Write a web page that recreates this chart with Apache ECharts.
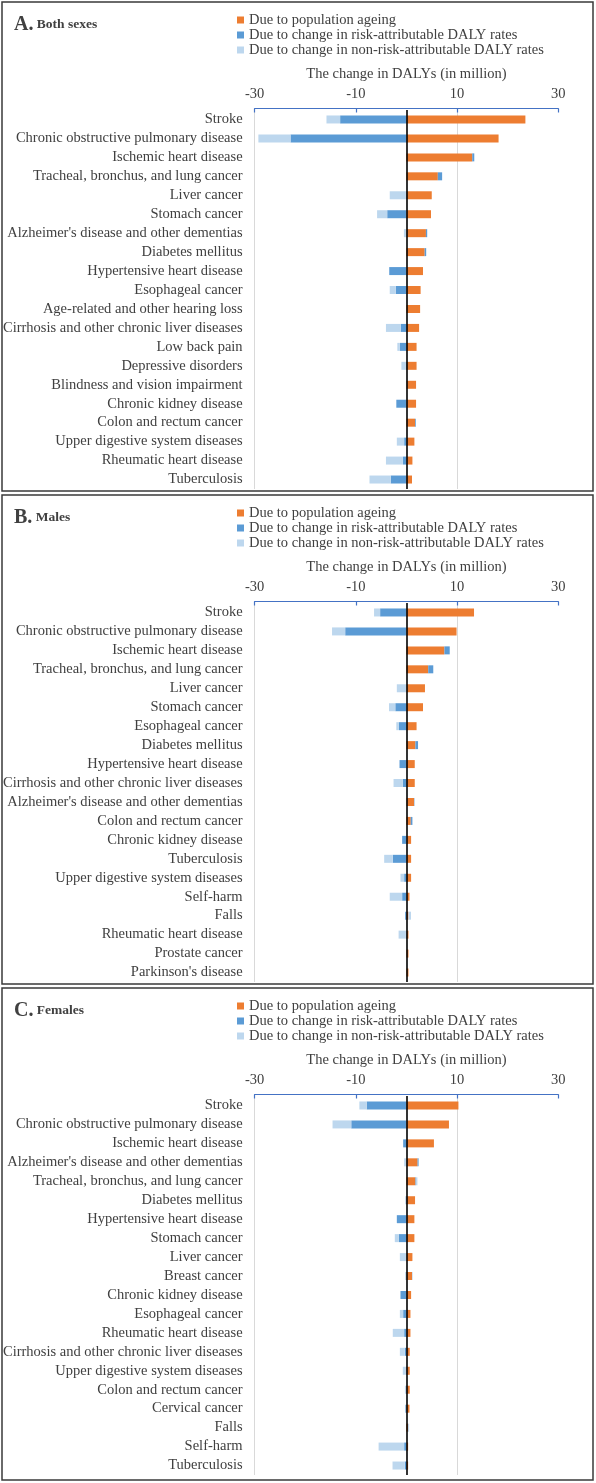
<!DOCTYPE html>
<html>
<head>
<meta charset="utf-8">
<script src="https://cdn.jsdelivr.net/npm/echarts@6/dist/echarts.min.js"></script>
<style>
html,body{margin:0;padding:0;background:#fff;}
#chart{width:596px;height:1483px;}
</style>
</head>
<body>
<div id="chart"></div>
<script>
// ---------- data ----------
const seriesNames = ['Due to population ageing', 'Due to change in risk-attributable DALY rates', 'Due to change in non-risk-attributable DALY rates'];
const tickLabels = [-30, -10, 10, 30];

const categoriesBoth = ['Stroke', 'Chronic obstructive pulmonary disease', 'Ischemic heart disease', 'Tracheal, bronchus, and lung cancer', 'Liver cancer', 'Stomach cancer', "Alzheimer's disease and other dementias", 'Diabetes mellitus', 'Hypertensive heart disease', 'Esophageal cancer', 'Age-related and other hearing loss', 'Cirrhosis and other chronic liver diseases', 'Low back pain', 'Depressive disorders', 'Blindness and vision impairment', 'Chronic kidney disease', 'Colon and rectum cancer', 'Upper digestive system diseases', 'Rheumatic heart disease', 'Tuberculosis'];
const ageingBoth = [23.5, 18.2, 13.0, 6.2, 5.0, 4.85, 3.85, 3.6, 3.27, 2.8, 2.7, 2.5, 2.0, 2.0, 1.9, 1.9, 1.7, 1.57, 1.18, 1.1];
const riskBoth = [-13.1, -22.9, 0.4, 0.85, -0.1, -3.8, 0.25, 0.3, -3.4, -2.1, 0, -1.1, -1.3, -0.1, 0, -2.0, 0.15, -0.45, -0.7, -3.1];
const nonRiskBoth = [-2.7, -6.35, 0, 0, -3.2, -2.0, -0.5, 0, 0, -1.2, 0, -2.95, -0.5, -0.9, -0.1, 0, 0, -1.45, -3.35, -4.2];

const categoriesMales = ['Stroke', 'Chronic obstructive pulmonary disease', 'Ischemic heart disease', 'Tracheal, bronchus, and lung cancer', 'Liver cancer', 'Stomach cancer', 'Esophageal cancer', 'Diabetes mellitus', 'Hypertensive heart disease', 'Cirrhosis and other chronic liver diseases', "Alzheimer's disease and other dementias", 'Colon and rectum cancer', 'Chronic kidney disease', 'Tuberculosis', 'Upper digestive system diseases', 'Self-harm', 'Falls', 'Rheumatic heart disease', 'Prostate cancer', "Parkinson's disease"];
const ageingMales = [13.35, 9.9, 7.5, 4.3, 3.66, 3.27, 2.0, 1.77, 1.64, 1.64, 1.5, 0.85, 0.92, 0.92, 0.92, 0.6, 0.4, 0.4, 0.4, 0.4];
const riskMales = [-5.2, -12.1, 1.05, 1.0, 0, -2.2, -1.5, 0.52, -1.37, -0.72, 0.07, 0.33, -0.85, -2.7, -0.45, -0.85, -0.25, -0.1, 0, 0];
const nonRiskMales = [-1.2, -2.6, 0, 0, -1.9, -1.25, -0.5, 0, 0, -1.83, -0.1, 0, 0, -1.7, -0.73, -2.45, 0.5, -1.45, 0, 0];

const categoriesFemales = ['Stroke', 'Chronic obstructive pulmonary disease', 'Ischemic heart disease', "Alzheimer's disease and other dementias", 'Tracheal, bronchus, and lung cancer', 'Diabetes mellitus', 'Hypertensive heart disease', 'Stomach cancer', 'Liver cancer', 'Breast cancer', 'Chronic kidney disease', 'Esophageal cancer', 'Rheumatic heart disease', 'Cirrhosis and other chronic liver diseases', 'Upper digestive system diseases', 'Colon and rectum cancer', 'Cervical cancer', 'Falls', 'Self-harm', 'Tuberculosis'];
const ageingFemales = [10.27, 8.4, 5.43, 2.2, 1.77, 1.7, 1.57, 1.57, 1.18, 1.1, 0.92, 0.79, 0.79, 0.65, 0.65, 0.65, 0.6, 0.33, 0.33, 0.33];
const riskFemales = [-7.85, -10.9, -0.65, 0.2, 0.1, -0.1, -1.9, -1.5, 0, 0.05, -1.18, -0.65, -0.45, -0.33, -0.1, -0.1, -0.2, 0, -0.45, -0.33];
const nonRiskFemales = [-1.45, -3.7, 0, -0.45, 0.3, -0.15, 0, -0.8, -1.3, -0.25, 0, -0.65, -2.25, -0.97, -0.62, -0.2, 0, 0.2, -5.05, -2.42];

// ---------- build ----------
const panels = [
  {letter: 'A.', title: 'Both sexes', cats: categoriesBoth, vals: [ageingBoth, riskBoth, nonRiskBoth]},
  {letter: 'B.', title: 'Males', cats: categoriesMales, vals: [ageingMales, riskMales, nonRiskMales]},
  {letter: 'C.', title: 'Females', cats: categoriesFemales, vals: [ageingFemales, riskFemales, nonRiskFemales]}
];
const colors = ['#ED7D31', '#5B9BD5', '#BDD7EE'];
const FONT = '"Liberation Serif", "Times New Roman", serif';
const TXT = '#404040';
const PH = 493;

const grid = [], xAxis = [], yAxis = [], series = [], legend = [], title = [], graphic = [];
const boxTops = [2, 495, 988], boxBottoms = [491, 984, 1480];

panels.forEach((p, i) => {
  const off = i * PH;
  grid.push({left: 252.7, right: 37.7, top: 110 + off, height: 379, containLabel: false});
  xAxis.push({
    type: 'value', gridIndex: i, position: 'top', min: -30, max: 30, interval: 10,
    offset: 1.5,
    name: 'The change in DALYs (in million)', nameLocation: 'middle', nameGap: 27,
    nameTextStyle: {fontFamily: FONT, fontSize: 14.5, color: TXT},
    axisLine: {show: true, lineStyle: {color: '#4472C4', width: 1.2}},
    axisTick: {show: true, inside: true, length: 4, customValues: tickLabels, lineStyle: {color: '#4472C4', width: 1.2}},
    axisLabel: {customValues: tickLabels, fontFamily: FONT, fontSize: 14.5, color: TXT, margin: 7,
      formatter: v => (tickLabels.indexOf(v) >= 0 ? String(v) : '')},
    splitLine: {show: true, lineStyle: {color: ['#d9d9d9', 'rgba(0,0,0,0)'], width: 1}}
  });
  yAxis.push({
    type: 'category', gridIndex: i, data: p.cats, inverse: true,
    axisLine: {show: false}, axisTick: {show: false},
    axisLabel: {interval: 0, fontFamily: FONT, fontSize: 14.5, color: TXT, margin: 12}
  });
  p.vals.forEach((vals, k) => {
    const s = {
      name: seriesNames[k], type: 'bar', xAxisIndex: i, yAxisIndex: i,
      stack: 'p' + i, data: vals, barWidth: 8,
      itemStyle: {color: colors[k]}, emphasis: {disabled: true}
    };
    if (k === 2) {
      s.markLine = {
        silent: true, symbol: ['none', 'none'], animation: false,
        label: {show: false},
        lineStyle: {color: '#000', width: 1.6, type: 'solid'},
        data: [{xAxis: 0}]
      };
    }
    series.push(s);
  });
  legend.push({
    data: seriesNames, orient: 'vertical', left: 232, top: 7.5 + off,
    icon: 'rect', itemWidth: 7, itemHeight: 7, itemGap: 0,
    selectedMode: false,
    textStyle: {fontFamily: FONT, fontSize: 14.5, color: TXT, lineHeight: 15}
  });
  title.push({
    text: '{a|' + p.letter + '}{b| ' + p.title + '}',
    left: 9, top: 10 + off,
    textStyle: {rich: {
      a: {fontFamily: FONT, fontSize: 20, fontWeight: 'bold', color: TXT},
      b: {fontFamily: FONT, fontSize: 13.5, fontWeight: 'bold', color: TXT}
    }}
  });
  graphic.push({
    type: 'rect', silent: true,
    shape: {x: 2, y: boxTops[i], width: 591, height: boxBottoms[i] - boxTops[i]},
    style: {fill: 'none', stroke: '#3a3a3a', lineWidth: 1.5}
  });
});

const chart = echarts.init(document.getElementById('chart'), null, {renderer: 'canvas'});
chart.setOption({
  animation: false,
  color: colors,
  title, legend, grid, xAxis, yAxis, series, graphic
});
</script>
</body>
</html>
